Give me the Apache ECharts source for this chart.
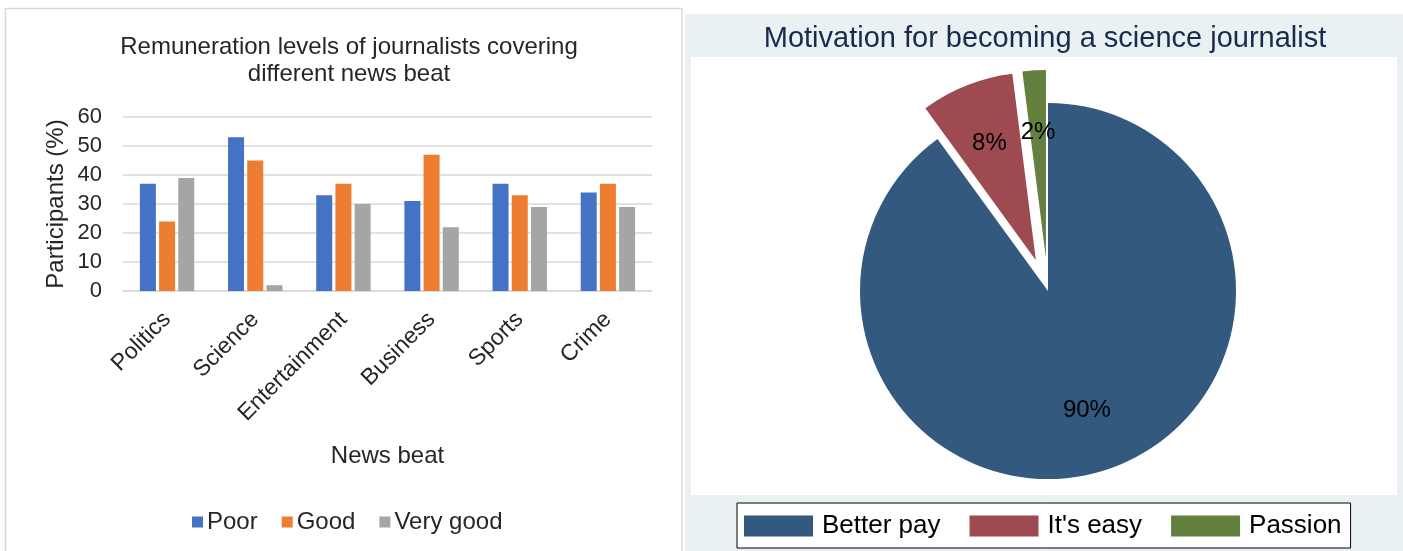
<!DOCTYPE html>
<html>
<head>
<meta charset="utf-8">
<style>
  html, body { margin: 0; padding: 0; background: #ffffff; }
  #chart { width: 1403px; height: 551px; }
</style>
<script src="https://cdn.jsdelivr.net/npm/echarts@6/dist/echarts.min.js"></script>
</head>
<body>
<div id="chart"></div>
<script>
// Remuneration by news beat (% of participants)
const beats = ['Politics', 'Science', 'Entertainment', 'Business', 'Sports', 'Crime'];
const poor = [37, 53, 33, 31, 37, 34];
const good = [24, 45, 37, 47, 33, 37];
const veryGood = [39, 2, 30, 22, 29, 29];
const levelNames = ['Poor', 'Good', 'Very good'];

// Motivation for becoming a science journalist (%)
const motives = ['Better pay', "It's easy", 'Passion'];
const motiveShares = [90, 8, 2];
const explodedMotives = ["It's easy", 'Passion'];

const barColors = ['#4472c4', '#ed7d31', '#a5a5a5'];
const pieColors = ['#335a7e', '#9d4a51', '#63803f'];
const textDark = '#262626';
const narrow = '"Liberation Sans Narrow", "Liberation Sans", Arial, sans-serif';
const sans = '"Liberation Sans", Arial, sans-serif';

const pieCenter = [1048, 291];
const pieR = 188;
const explode = 33;

const pieData = motives.map((m, i) => ({
  name: m,
  value: motiveShares[i],
  selected: explodedMotives.includes(m),
  itemStyle: { color: pieColors[i] }
}));

const chart = echarts.init(document.getElementById('chart'), null, { renderer: 'canvas' });

chart.setOption({
  animation: false,
  backgroundColor: '#ffffff',
  graphic: [
    // frame of the bar chart panel
    { type: 'rect', z: -10, silent: true,
      shape: { x: 5.5, y: 8.5, width: 676.5, height: 560 },
      style: { fill: '#ffffff', stroke: '#d9d9d9', lineWidth: 1.5 } },
    // pie panel background and plot region
    { type: 'rect', z: -10, silent: true,
      shape: { x: 685, y: 14, width: 718, height: 537 },
      style: { fill: '#e9f1f3' } },
    { type: 'rect', z: -9, silent: true,
      shape: { x: 691, y: 57, width: 706, height: 438 },
      style: { fill: '#ffffff' } }
  ],
  title: [
    {
      text: 'Remuneration levels of journalists covering\ndifferent news beat',
      left: 344, top: 29, textAlign: 'center',
      textStyle: { fontFamily: sans, fontSize: 24, fontWeight: 'normal', color: textDark, lineHeight: 27 }
    },
    {
      text: 'Motivation for becoming a science journalist',
      left: 1040, top: 19, textAlign: 'center',
      textStyle: { fontFamily: narrow, fontSize: 29, fontWeight: 'normal', color: '#1a2a4f' }
    }
  ],
  legend: [
    {
      data: levelNames,
      left: 187, top: 505,
      itemWidth: 11, itemHeight: 11, itemGap: 24,
      icon: 'rect',
      textStyle: { fontFamily: sans, fontSize: 24, color: textDark, padding: [0, 0, 0, -1] }
    },
    {
      data: motives,
      left: 737, top: 503,
      itemWidth: 69, itemHeight: 21, itemGap: 29,
      icon: 'rect',
      padding: [10, 9, 9, 7],
      borderColor: '#000000', borderWidth: 1, backgroundColor: '#ffffff',
      selectedMode: false,
      textStyle: { fontFamily: narrow, fontSize: 26, color: '#000000', padding: [0, 0, 0, 4] }
    }
  ],
  grid: { left: 123, top: 117, width: 529, height: 174, containLabel: false },
  xAxis: {
    type: 'category',
    data: beats,
    name: 'News beat',
    nameLocation: 'middle',
    nameGap: 153,
    nameTextStyle: { fontFamily: sans, fontSize: 24, color: textDark },
    axisLine: { lineStyle: { color: '#d9d9d9', width: 1.5 } },
    axisTick: { show: false },
    axisLabel: { rotate: 45, fontFamily: sans, fontSize: 23, color: textDark, margin: 25, interval: 0 }
  },
  yAxis: {
    type: 'value',
    min: 0, max: 60, interval: 10,
    name: 'Participants (%)',
    nameLocation: 'middle',
    nameGap: 55,
    nameRotate: 90,
    nameTextStyle: { fontFamily: sans, fontSize: 24, color: textDark },
    axisLine: { show: false },
    axisTick: { show: false },
    splitLine: { lineStyle: { color: '#d9d9d9', width: 1.5 } },
    axisLabel: { fontFamily: sans, fontSize: 22, color: textDark, margin: 21 }
  },
  series: [
    { name: levelNames[0], type: 'bar', data: poor, barWidth: 16, barGap: '20%', itemStyle: { color: barColors[0] } },
    { name: levelNames[1], type: 'bar', data: good, barWidth: 16, barGap: '20%', itemStyle: { color: barColors[1] } },
    { name: levelNames[2], type: 'bar', data: veryGood, barWidth: 16, barGap: '20%', itemStyle: { color: barColors[2] } },
    {
      name: 'Motivation',
      type: 'pie',
      center: pieCenter,
      radius: [0, pieR],
      startAngle: 90,
      clockwise: true,
      selectedMode: 'multiple',
      selectedOffset: explode,
      avoidLabelOverlap: false,
      label: { show: false },
      labelLine: { show: false },
      emphasis: { disabled: true },
      itemStyle: { borderWidth: 0 },
      data: pieData
    },
    {
      // percentage labels, placed about two thirds of the way out
      name: 'Motivation labels',
      type: 'pie',
      center: pieCenter,
      radius: [58, pieR],
      startAngle: 90,
      clockwise: true,
      silent: true,
      selectedMode: 'multiple',
      selectedOffset: explode,
      avoidLabelOverlap: false,
      itemStyle: { color: 'rgba(0,0,0,0)', borderWidth: 0 },
      label: {
        show: true, position: 'inside',
        formatter: '{c}%',
        fontFamily: narrow, fontSize: 24, color: '#000000'
      },
      labelLine: { show: false },
      emphasis: { disabled: true },
      data: motives.map((m, i) => ({ name: m, value: motiveShares[i], selected: explodedMotives.includes(m) }))
    }
  ]
});
</script>
</body>
</html>
